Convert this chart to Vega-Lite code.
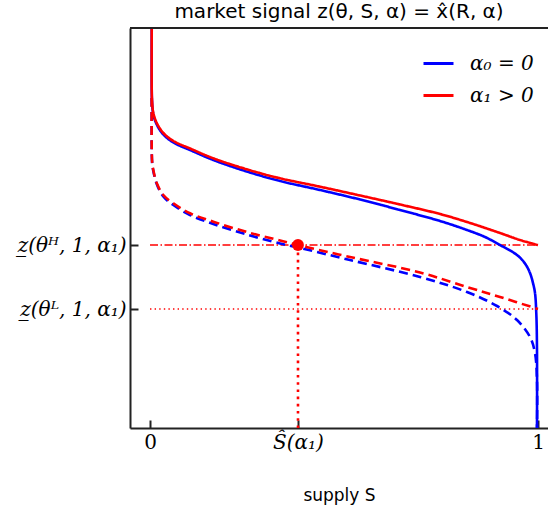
{
  "$schema": "https://vega.github.io/schema/vega-lite/v6.json",
  "autosize": "none",
  "width": 418,
  "height": 400,
  "padding": {"left": 130, "top": 28, "right": 0, "bottom": 88},
  "title": {"text": "market signal z(\u03b8, S, \u03b1) = x\u0302(R, \u03b1)", "font": "DejaVu Sans", "fontSize": 20, "fontWeight": "normal", "color": "#000", "offset": 5},
  "config": {
    "view": {"stroke": null},
    "axis": {"grid": false, "domainColor": "#222", "domainWidth": 2, "tickColor": "#222", "tickWidth": 2, "tickSize": -8, "labelPadding": 12, "labelColor": "#000", "labelFont": "DejaVu Serif", "labelFontSize": 20}
  },
  "datasets": {
    "curves": [
      {"s": 0.0044, "z": 1.0, "a": "\u03b1\u2080 = 0", "k": "solid", "i": 1},
      {"s": 0.0044, "z": 0.845, "a": "\u03b1\u2080 = 0", "k": "solid", "i": 2},
      {"s": 0.0052, "z": 0.8163, "a": "\u03b1\u2080 = 0", "k": "solid", "i": 3},
      {"s": 0.0085, "z": 0.7838, "a": "\u03b1\u2080 = 0", "k": "solid", "i": 4},
      {"s": 0.0173, "z": 0.7588, "a": "\u03b1\u2080 = 0", "k": "solid", "i": 5},
      {"s": 0.0343, "z": 0.7338, "a": "\u03b1\u2080 = 0", "k": "solid", "i": 6},
      {"s": 0.0601, "z": 0.7138, "a": "\u03b1\u2080 = 0", "k": "solid", "i": 7},
      {"s": 0.1031, "z": 0.695, "a": "\u03b1\u2080 = 0", "k": "solid", "i": 8},
      {"s": 0.1631, "z": 0.67, "a": "\u03b1\u2080 = 0", "k": "solid", "i": 9},
      {"s": 0.2492, "z": 0.6413, "a": "\u03b1\u2080 = 0", "k": "solid", "i": 10},
      {"s": 0.3351, "z": 0.6175, "a": "\u03b1\u2080 = 0", "k": "solid", "i": 11},
      {"s": 0.4381, "z": 0.595, "a": "\u03b1\u2080 = 0", "k": "solid", "i": 12},
      {"s": 0.5412, "z": 0.5713, "a": "\u03b1\u2080 = 0", "k": "solid", "i": 13},
      {"s": 0.6443, "z": 0.545, "a": "\u03b1\u2080 = 0", "k": "solid", "i": 14},
      {"s": 0.7474, "z": 0.5175, "a": "\u03b1\u2080 = 0", "k": "solid", "i": 15},
      {"s": 0.817, "z": 0.495, "a": "\u03b1\u2080 = 0", "k": "solid", "i": 16},
      {"s": 0.8634, "z": 0.4775, "a": "\u03b1\u2080 = 0", "k": "solid", "i": 17},
      {"s": 0.9021, "z": 0.4575, "a": "\u03b1\u2080 = 0", "k": "solid", "i": 18},
      {"s": 0.9459, "z": 0.4325, "a": "\u03b1\u2080 = 0", "k": "solid", "i": 19},
      {"s": 0.9665, "z": 0.4113, "a": "\u03b1\u2080 = 0", "k": "solid", "i": 20},
      {"s": 0.9794, "z": 0.3875, "a": "\u03b1\u2080 = 0", "k": "solid", "i": 21},
      {"s": 0.9871, "z": 0.3625, "a": "\u03b1\u2080 = 0", "k": "solid", "i": 22},
      {"s": 0.9923, "z": 0.3375, "a": "\u03b1\u2080 = 0", "k": "solid", "i": 23},
      {"s": 0.9956, "z": 0.2875, "a": "\u03b1\u2080 = 0", "k": "solid", "i": 24},
      {"s": 0.9974, "z": 0.2, "a": "\u03b1\u2080 = 0", "k": "solid", "i": 25},
      {"s": 0.9974, "z": 0.0, "a": "\u03b1\u2080 = 0", "k": "solid", "i": 26},

      {"s": 0.0044, "z": 0.825, "a": "\u03b1\u2080 = 0", "k": "dashed", "i": 1},
      {"s": 0.0044, "z": 0.695, "a": "\u03b1\u2080 = 0", "k": "dashed", "i": 2},
      {"s": 0.0057, "z": 0.66, "a": "\u03b1\u2080 = 0", "k": "dashed", "i": 3},
      {"s": 0.0085, "z": 0.6425, "a": "\u03b1\u2080 = 0", "k": "dashed", "i": 4},
      {"s": 0.0173, "z": 0.61, "a": "\u03b1\u2080 = 0", "k": "dashed", "i": 5},
      {"s": 0.0343, "z": 0.5788, "a": "\u03b1\u2080 = 0", "k": "dashed", "i": 6},
      {"s": 0.0601, "z": 0.5575, "a": "\u03b1\u2080 = 0", "k": "dashed", "i": 7},
      {"s": 0.1031, "z": 0.5325, "a": "\u03b1\u2080 = 0", "k": "dashed", "i": 8},
      {"s": 0.1631, "z": 0.51, "a": "\u03b1\u2080 = 0", "k": "dashed", "i": 9},
      {"s": 0.2492, "z": 0.4838, "a": "\u03b1\u2080 = 0", "k": "dashed", "i": 10},
      {"s": 0.3351, "z": 0.4613, "a": "\u03b1\u2080 = 0", "k": "dashed", "i": 11},
      {"s": 0.3814, "z": 0.4513, "a": "\u03b1\u2080 = 0", "k": "dashed", "i": 12},
      {"s": 0.5155, "z": 0.42, "a": "\u03b1\u2080 = 0", "k": "dashed", "i": 13},
      {"s": 0.6959, "z": 0.3775, "a": "\u03b1\u2080 = 0", "k": "dashed", "i": 14},
      {"s": 0.817, "z": 0.34, "a": "\u03b1\u2080 = 0", "k": "dashed", "i": 15},
      {"s": 0.8943, "z": 0.305, "a": "\u03b1\u2080 = 0", "k": "dashed", "i": 16},
      {"s": 0.9459, "z": 0.27, "a": "\u03b1\u2080 = 0", "k": "dashed", "i": 17},
      {"s": 0.9794, "z": 0.2275, "a": "\u03b1\u2080 = 0", "k": "dashed", "i": 18},
      {"s": 0.9923, "z": 0.1875, "a": "\u03b1\u2080 = 0", "k": "dashed", "i": 19},
      {"s": 0.9974, "z": 0.12, "a": "\u03b1\u2080 = 0", "k": "dashed", "i": 20},
      {"s": 0.9974, "z": 0.0, "a": "\u03b1\u2080 = 0", "k": "dashed", "i": 21},

      {"s": 0.0044, "z": 1.0, "a": "\u03b1\u2081 > 0", "k": "solid", "i": 1},
      {"s": 0.0044, "z": 0.845, "a": "\u03b1\u2081 > 0", "k": "solid", "i": 2},
      {"s": 0.0052, "z": 0.82, "a": "\u03b1\u2081 > 0", "k": "solid", "i": 3},
      {"s": 0.0085, "z": 0.7875, "a": "\u03b1\u2081 > 0", "k": "solid", "i": 4},
      {"s": 0.0173, "z": 0.7625, "a": "\u03b1\u2081 > 0", "k": "solid", "i": 5},
      {"s": 0.0343, "z": 0.7375, "a": "\u03b1\u2081 > 0", "k": "solid", "i": 6},
      {"s": 0.0601, "z": 0.7175, "a": "\u03b1\u2081 > 0", "k": "solid", "i": 7},
      {"s": 0.1031, "z": 0.6988, "a": "\u03b1\u2081 > 0", "k": "solid", "i": 8},
      {"s": 0.1631, "z": 0.6743, "a": "\u03b1\u2081 > 0", "k": "solid", "i": 9},
      {"s": 0.2492, "z": 0.6468, "a": "\u03b1\u2081 > 0", "k": "solid", "i": 10},
      {"s": 0.3351, "z": 0.6243, "a": "\u03b1\u2081 > 0", "k": "solid", "i": 11},
      {"s": 0.4381, "z": 0.6033, "a": "\u03b1\u2081 > 0", "k": "solid", "i": 12},
      {"s": 0.5412, "z": 0.5813, "a": "\u03b1\u2081 > 0", "k": "solid", "i": 13},
      {"s": 0.6443, "z": 0.5588, "a": "\u03b1\u2081 > 0", "k": "solid", "i": 14},
      {"s": 0.7474, "z": 0.535, "a": "\u03b1\u2081 > 0", "k": "solid", "i": 15},
      {"s": 0.817, "z": 0.515, "a": "\u03b1\u2081 > 0", "k": "solid", "i": 16},
      {"s": 0.9021, "z": 0.4875, "a": "\u03b1\u2081 > 0", "k": "solid", "i": 17},
      {"s": 0.9536, "z": 0.47, "a": "\u03b1\u2081 > 0", "k": "solid", "i": 18},
      {"s": 1.0, "z": 0.4575, "a": "\u03b1\u2081 > 0", "k": "solid", "i": 19},

      {"s": 0.0044, "z": 0.825, "a": "\u03b1\u2081 > 0", "k": "dashed", "i": 1},
      {"s": 0.0044, "z": 0.695, "a": "\u03b1\u2081 > 0", "k": "dashed", "i": 2},
      {"s": 0.0057, "z": 0.6625, "a": "\u03b1\u2081 > 0", "k": "dashed", "i": 3},
      {"s": 0.0085, "z": 0.645, "a": "\u03b1\u2081 > 0", "k": "dashed", "i": 4},
      {"s": 0.0173, "z": 0.6125, "a": "\u03b1\u2081 > 0", "k": "dashed", "i": 5},
      {"s": 0.0343, "z": 0.5825, "a": "\u03b1\u2081 > 0", "k": "dashed", "i": 6},
      {"s": 0.0601, "z": 0.5618, "a": "\u03b1\u2081 > 0", "k": "dashed", "i": 7},
      {"s": 0.1031, "z": 0.5368, "a": "\u03b1\u2081 > 0", "k": "dashed", "i": 8},
      {"s": 0.1631, "z": 0.5158, "a": "\u03b1\u2081 > 0", "k": "dashed", "i": 9},
      {"s": 0.2492, "z": 0.49, "a": "\u03b1\u2081 > 0", "k": "dashed", "i": 10},
      {"s": 0.3351, "z": 0.4688, "a": "\u03b1\u2081 > 0", "k": "dashed", "i": 11},
      {"s": 0.3814, "z": 0.4575, "a": "\u03b1\u2081 > 0", "k": "dashed", "i": 12},
      {"s": 0.5155, "z": 0.4275, "a": "\u03b1\u2081 > 0", "k": "dashed", "i": 13},
      {"s": 0.6959, "z": 0.3888, "a": "\u03b1\u2081 > 0", "k": "dashed", "i": 14},
      {"s": 0.817, "z": 0.3525, "a": "\u03b1\u2081 > 0", "k": "dashed", "i": 15},
      {"s": 0.9021, "z": 0.3275, "a": "\u03b1\u2081 > 0", "k": "dashed", "i": 16},
      {"s": 1.0, "z": 0.2975, "a": "\u03b1\u2081 > 0", "k": "dashed", "i": 17}
    ]
  },
  "layer": [
    {
      "data": {"values": [{"s0": 0, "s1": 1, "z": 0.4575}]},
      "mark": {"type": "rule", "color": "#ff0000", "strokeWidth": 1.3, "strokeDash": [8, 2.5, 1.5, 2.5]},
      "encoding": {
        "x": {"field": "s0", "type": "quantitative", "scale": {"domain": [-0.0516, 1.0258], "nice": false, "zero": false},
          "axis": {"values": [0, 0.3814, 1], "labelExpr": "datum.value == 0 ? '0' : datum.value == 1 ? '1' : '\u015c(\u03b1\u2081)'",
            "labelFontStyle": {"condition": {"test": "datum.value > 0.2 && datum.value < 0.8", "value": "italic"}, "value": "normal"},
            "title": "supply S", "titleFont": "DejaVu Sans", "titleFontSize": 17, "titleFontWeight": "normal", "titleColor": "#000", "titlePadding": 35}},
        "x2": {"field": "s1"},
        "y": {"field": "z", "type": "quantitative", "scale": {"domain": [0, 1], "nice": false, "zero": false},
          "axis": {"values": [0.2975, 0.4575], "labelExpr": "datum.value > 0.4 ? 'z\u0332(\u03b8\u1d34, 1, \u03b1\u2081)' : 'z\u0332(\u03b8\u1d38, 1, \u03b1\u2081)'", "labelFontStyle": "italic", "title": null}}
      }
    },
    {
      "data": {"values": [{"s0": 0, "s1": 1, "z": 0.2975}]},
      "mark": {"type": "rule", "color": "#ff0000", "strokeWidth": 1.3, "strokeDash": [1.4, 3.2]},
      "encoding": {
        "x": {"field": "s0", "type": "quantitative"},
        "x2": {"field": "s1"},
        "y": {"field": "z", "type": "quantitative"}
      }
    },
    {
      "data": {"values": [{"s": 0.3814, "z0": 0, "z1": 0.4575}]},
      "mark": {"type": "rule", "color": "#ff0000", "strokeWidth": 2.6, "strokeDash": [2.6, 4.6]},
      "encoding": {
        "x": {"field": "s", "type": "quantitative"},
        "y": {"field": "z0", "type": "quantitative"},
        "y2": {"field": "z1"}
      }
    },
    {
      "data": {"name": "curves"},
      "mark": {"type": "line", "strokeWidth": 2.6, "clip": true, "interpolate": "catmull-rom"},
      "encoding": {
        "x": {"field": "s", "type": "quantitative"},
        "y": {"field": "z", "type": "quantitative"},
        "order": {"field": "i", "type": "quantitative"},
        "color": {"field": "a", "type": "nominal", "scale": {"domain": ["\u03b1\u2080 = 0", "\u03b1\u2081 > 0"], "range": ["#0000ff", "#ff0000"]},
          "legend": {"title": null, "orient": "none", "legendX": 292, "legendY": 19, "symbolType": "stroke", "symbolSize": 900, "symbolStrokeWidth": 3, "labelFont": "DejaVu Serif", "labelFontStyle": "italic", "labelFontSize": 20, "labelColor": "#000", "labelOffset": 15, "rowPadding": 5}},
        "strokeDash": {"field": "k", "type": "nominal", "scale": {"domain": ["solid", "dashed"], "range": [[1, 0], [9, 5]]}, "legend": null}
      }
    },
    {
      "data": {"values": [{"s": 0.3814, "z": 0.4575}]},
      "mark": {"type": "circle", "color": "#ff0000", "size": 140, "opacity": 1},
      "encoding": {
        "x": {"field": "s", "type": "quantitative"},
        "y": {"field": "z", "type": "quantitative"}
      }
    },
    {
      "data": {"values": [{"s0": -0.0516, "s1": 1.0258, "z": 1}]},
      "mark": {"type": "rule", "color": "#222", "strokeWidth": 2},
      "encoding": {
        "x": {"field": "s0", "type": "quantitative"},
        "x2": {"field": "s1"},
        "y": {"field": "z", "type": "quantitative"}
      }
    }
  ]
}
